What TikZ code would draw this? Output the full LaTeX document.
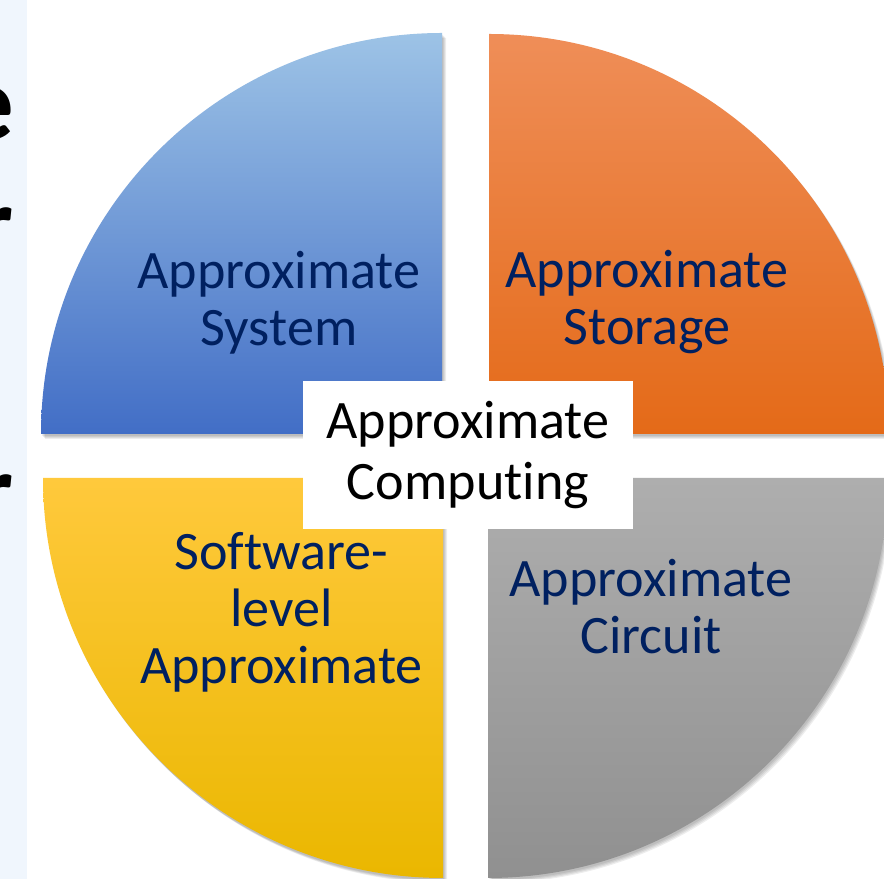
\documentclass[tikz,border=0pt]{standalone}
\usepackage{fontspec}
\setmainfont{Carlito}[Ligatures=NoCommon]

\definecolor{stripbg}{RGB}{240,246,253}
\definecolor{sysTop}{RGB}{157,195,230}
\definecolor{sysBot}{RGB}{66,110,198}
\definecolor{stoTop}{RGB}{239,142,88}
\definecolor{stoBot}{RGB}{228,106,24}
\definecolor{swTop}{RGB}{255,201,60}
\definecolor{swMid}{RGB}{255,192,0}
\definecolor{swBot}{RGB}{234,183,0}
\definecolor{cirTop}{RGB}{174,174,174}
\definecolor{cirBot}{RGB}{144,144,144}
\definecolor{navy}{RGB}{0,32,96}

\begin{document}
\begin{tikzpicture}[x=0.025cm,y=0.025cm,
    qtext/.style={text=navy,align=center,inner sep=0pt,font=\fontsize{38.5}{40.5}\selectfont},
    qshadow/.style={fill=black,opacity=0.07},
    bigletter/.style={anchor=base east,inner sep=0pt,font=\fontsize{76}{80}\selectfont\bfseries}]
    \useasboundingbox (0,0) rectangle (884,879);
    \fill[white] (0,0) rectangle (884,879);
    % strip with the cut-off letters on the left
    \begin{scope}
        \clip (0,0) rectangle (27,879);
        \fill[stripbg] (0,0) rectangle (27,879);
        \node[bigletter] (e) at (15,739) {e};
        \node[bigletter] (r1) at (14,618) {r};
        \node[bigletter] (r2) at (14,351) {r};
    \end{scope}
    % soft shadows under the quarters
    \foreach \s in {1,2,3,4}{
        \fill[qshadow,shift={(\s,-\s-1)}] (442,445) -- (41,445) arc[start angle=180,end angle=90,radius=401] -- cycle;
        \fill[qshadow,shift={(\s,-\s-1)}] (489,445) -- (489,845) arc[start angle=90,end angle=0,radius=400] -- cycle;
        \fill[qshadow,shift={(\s,-\s-1)}] (443,401) -- (443,1) arc[start angle=270,end angle=180,radius=400] -- cycle;
        \fill[qshadow,shift={(\s,-\s-1)}] (488,401) -- (888,401) arc[start angle=0,end angle=-90,radius=400] -- cycle;
    }
    % the four quarters
    \shade[top color=sysTop,bottom color=sysBot] (442,445) -- (41,445) arc[start angle=180,end angle=90,radius=401] -- cycle;
    \shade[top color=stoTop,bottom color=stoBot] (489,445) -- (489,845) arc[start angle=90,end angle=0,radius=400] -- cycle;
    \shade[top color=swTop,middle color=swMid,bottom color=swBot] (443,401) -- (443,1) arc[start angle=270,end angle=180,radius=400] -- cycle;
    \shade[top color=cirTop,bottom color=cirBot] (488,401) -- (888,401) arc[start angle=0,end angle=-90,radius=400] -- cycle;
    \node[qtext] (sys) at (279,576.5) {Approximate\\System};
    \node[qtext] (sto) at (647,576.5) {Approximate\\Storage};
    \node[qtext] (sw) at (281.5,267) {Software-\\level\\Approximate};
    \node[qtext] (cir) at (651,272.5) {Approximate\\Circuit};
    % box in the middle
    \node[fill=white,minimum width=8.25cm,minimum height=3.7cm,align=center,
        font=\fontsize{38.5}{44}\selectfont] (core) at (468,424) {Approximate\\Computing};
\end{tikzpicture}
\end{document}
